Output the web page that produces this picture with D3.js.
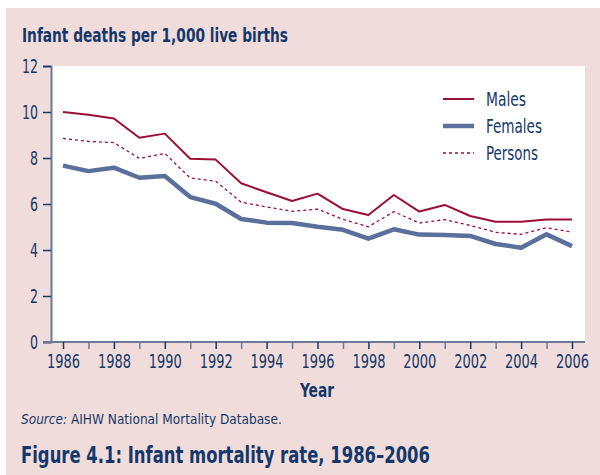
<!DOCTYPE html>
<html>
<head>
<meta charset="utf-8">
<script src="https://cdn.jsdelivr.net/npm/d3@7"></script>
<style>
  body { margin: 0; background: #fff; }
  text { font-family: "Liberation Sans Narrow", "DejaVu Sans Condensed", sans-serif; fill: #14386a; }
</style>
</head>
<body>
<script>
// data
var years = d3.range(1986, 2007);
var males = [10.0, 9.88, 9.72, 8.88, 9.06, 7.97, 7.93, 6.90, 6.51, 6.13, 6.45, 5.78, 5.52, 6.39, 5.67, 5.96, 5.48, 5.23, 5.23, 5.33, 5.33];
var females = [7.67, 7.43, 7.58, 7.14, 7.22, 6.30, 6.01, 5.35, 5.19, 5.17, 5.01, 4.88, 4.49, 4.90, 4.67, 4.65, 4.61, 4.26, 4.10, 4.68, 4.17];
var persons = [8.85, 8.72, 8.67, 7.98, 8.20, 7.13, 6.99, 6.08, 5.87, 5.68, 5.78, 5.33, 5.01, 5.67, 5.17, 5.32, 5.07, 4.77, 4.68, 4.97, 4.78];
var yTicks = [0, 2, 4, 6, 8, 10, 12];

var series = [
    { name: "Males", values: males, color: "#9b0e35", width: 2, dash: null, len: 40 },
    { name: "Females", values: females, color: "#5a6f9b", width: 4.5, dash: null, len: 56 },
    { name: "Persons", values: persons, color: "#9b0e35", width: 1.3, dash: "3,3", len: 52 }
];

var W = 600, H = 475;
var svg = d3.select("body").append("svg").attr("width", W).attr("height", H);

// squeeze text to the condensed widths of the original
function fit(sel, len) {
    return sel.attr("textLength", len).attr("lengthAdjust", "spacingAndGlyphs");
}

// pink panel
svg.append("rect").attr("x", 6).attr("y", 8).attr("width", W - 6).attr("height", H - 8).attr("fill", "#f0dcda");

var pLeft = 51, pRight = 585, pTop = 66, pBottom = 342;
svg.append("rect").attr("x", pLeft).attr("y", pTop).attr("width", pRight - pLeft).attr("height", pBottom - pTop).attr("fill", "#fff");

var x = d3.scaleLinear().domain([1986, 2006]).range([63, 572]);
var y = d3.scaleLinear().domain([0, 12]).range([pBottom, pTop]);

// y axis
var yAxis = svg.append("g").attr("transform", "translate(" + pLeft + ",0)")
    .call(d3.axisLeft(y).tickValues(yTicks).tickSize(8).tickPadding(5));
yAxis.select(".domain").attr("stroke", "#6b7a96").attr("stroke-width", 2);
yAxis.selectAll(".tick line").attr("stroke", "#14386a").attr("stroke-width", 1.5);
yAxis.selectAll(".tick text").style("font-size", "19px").attr("fill", "#14386a")
    .each(function(d) { fit(d3.select(this), String(d).length * 8); });

// x axis: line across plot, ticks every year, labels every 2 years
svg.append("line").attr("x1", pLeft - 8).attr("x2", pRight).attr("y1", pBottom).attr("y2", pBottom)
    .attr("stroke", "#6b7a96").attr("stroke-width", 2);
var xAxis = svg.append("g").attr("transform", "translate(0," + pBottom + ")")
    .call(d3.axisBottom(x).tickValues(years).tickSize(7).tickPadding(6)
        .tickFormat(function(d) { return d % 2 === 0 ? d : ""; }));
xAxis.select(".domain").remove();
xAxis.selectAll(".tick line").attr("stroke", function(d) { return d % 2 === 0 ? "#14386a" : "#6b7a96"; }).attr("stroke-width", 1.5);
xAxis.selectAll(".tick text").style("font-size", "19px").attr("fill", "#14386a")
    .filter(function(d) { return d % 2 === 0; })
    .each(function() { fit(d3.select(this), 33); });

// lines
var line = d3.line()
    .x(function(d, i) { return x(years[i]); })
    .y(function(d) { return y(d); });

// draw order: persons, females, males
[series[2], series[1], series[0]].forEach(function(s) {
    svg.append("path").datum(s.values)
        .attr("d", line)
        .attr("fill", "none")
        .attr("stroke", s.color)
        .attr("stroke-width", s.width)
        .attr("stroke-dasharray", s.dash)
        .attr("stroke-linejoin", "round");
});

// legend
var legend = svg.append("g").attr("transform", "translate(443,99)");
series.forEach(function(s, i) {
    var g = legend.append("g").attr("transform", "translate(0," + (i * 27) + ")");
    g.append("line").attr("x1", 0).attr("x2", 31).attr("y1", 0).attr("y2", 0)
        .attr("stroke", s.color).attr("stroke-width", s.width).attr("stroke-dasharray", s.dash);
    fit(g.append("text").attr("x", 43).attr("y", 7).style("font-size", "19px").text(s.name), s.len);
});

// titles
fit(svg.append("text").attr("x", 22).attr("y", 42).style("font-size", "19px").style("font-weight", "bold")
    .text("Infant deaths per 1,000 live births"), 266);
fit(svg.append("text").attr("x", 300).attr("y", 397)
    .style("font-size", "19px").style("font-weight", "bold").text("Year"), 34);

var src = svg.append("text").attr("x", 21).attr("y", 424).style("font-size", "13.5px");
src.append("tspan").style("font-style", "italic").text("Source:");
src.append("tspan").text(" AIHW National Mortality Database.");

fit(svg.append("text").attr("x", 21).attr("y", 463).style("font-size", "23px").style("font-weight", "bold")
    .text("Figure 4.1: Infant mortality rate, 1986\u20132006"), 409);
</script>
</body>
</html>
